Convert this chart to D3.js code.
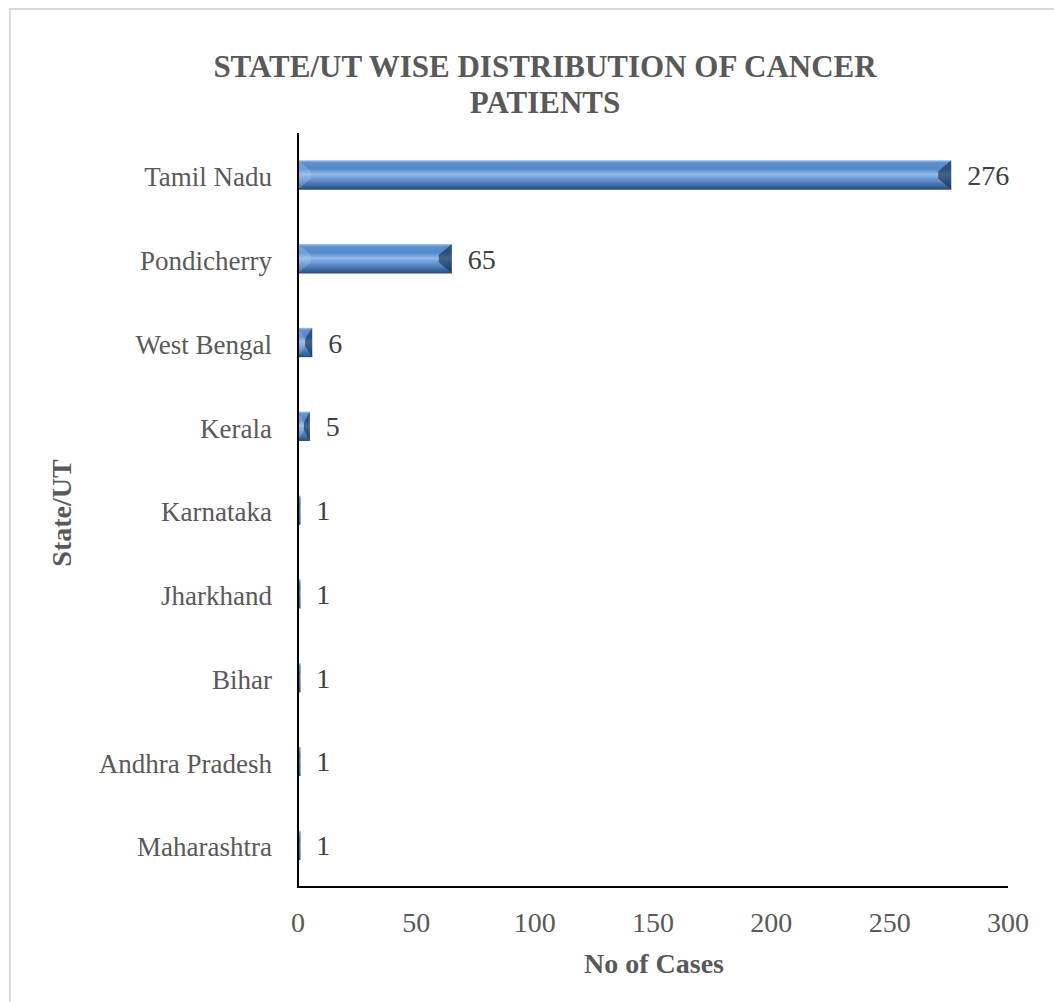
<!DOCTYPE html>
<html><head><meta charset="utf-8">
<script src="https://cdn.jsdelivr.net/npm/d3@7"></script>
<style>body{margin:0;background:#fff}svg{display:block}</style>
</head><body>
<svg id="chart" width="1054" height="1002"></svg>
<script>
const categories = ["Tamil Nadu","Pondicherry","West Bengal","Kerala","Karnataka","Jharkhand","Bihar","Andhra Pradesh","Maharashtra"];
const values = [276,65,6,5,1,1,1,1,1];
const xTicks = [0,50,100,150,200,250,300];
const titleLines = ["STATE/UT WISE DISTRIBUTION OF CANCER","PATIENTS"];
const xTitle = "No of Cases";
const yTitle = "State/UT";

const svg = d3.select("#chart");
const W = 1054, H = 1002;
const m = {left:298, right:1054-1008, top:133, bottom:1002-887};
const font = "'Liberation Serif','Times New Roman',serif";

svg.append("rect").attr("x",10).attr("y",9).attr("width",1060).attr("height",1010)
  .attr("fill","#fff").attr("stroke","#d9d9d9").attr("stroke-width",2);

const x = d3.scaleLinear().domain([0,300]).range([m.left, W-m.right]);
const y = d3.scaleBand().domain(categories).range([m.top, H-m.bottom]).paddingInner(0.65).paddingOuter(0.325);

const defs = svg.append("defs");
const g = defs.append("linearGradient").attr("id","barGrad").attr("x1",0).attr("y1",0).attr("x2",0).attr("y2",1);
[["0%","#a9c6ec"],["8%","#5f91cf"],["30%","#5289c9"],["48%","#93b9e8"],["62%","#6d9cd8"],["85%","#3f6ea8"],["100%","#2b4f7e"]]
  .forEach(([o,c])=>g.append("stop").attr("offset",o).attr("stop-color",c));

const bars = svg.append("g");
categories.forEach((c,i)=>{
  const x0 = x(0), x1 = x(values[i]), y0 = y(c), h = y.bandwidth(), y1 = y0+h;
  const w = x1-x0;
  const bx = Math.min(13, w/2), by = Math.min(11, h/2);
  const gb = bars.append("g");
  gb.append("rect").attr("x",x0).attr("y",y0).attr("width",w).attr("height",h).attr("fill","url(#barGrad)");
  gb.append("polygon").attr("points",[[x0,y0],[x0+bx,y0+by],[x0+bx,y1-by],[x0,y1]].map(p=>p.join(",")).join(" "))
    .attr("fill","#c9dcf3").attr("opacity",0.25);
  gb.append("polygon").attr("points",[[x1,y0],[x1-bx,y0+by],[x1-bx,y1-by],[x1,y1]].map(p=>p.join(",")).join(" "))
    .attr("fill","#13294a").attr("opacity",0.6);
  gb.append("rect").attr("x",x0).attr("y",y1-1.2).attr("width",w).attr("height",1.2).attr("fill","#2a4a75").attr("opacity",0.7);
  svg.append("text").attr("x",x1+16).attr("y",y0+h/2).attr("dy","0.36em")
    .attr("font-family",font).attr("font-size",28).attr("fill","#404040").text(values[i]);
});

categories.forEach(c=>{
  svg.append("text").attr("x",m.left-26).attr("y",y(c)+y.bandwidth()/2).attr("dy","0.42em")
    .attr("text-anchor","end").attr("font-family",font).attr("font-size",27).attr("fill","#595959").text(c);
});

svg.append("line").attr("x1",x(0)).attr("x2",x(0)).attr("y1",m.top).attr("y2",H-m.bottom).attr("stroke","#000").attr("stroke-width",2);
svg.append("line").attr("x1",x(0)-1).attr("x2",x(300)).attr("y1",H-m.bottom).attr("y2",H-m.bottom).attr("stroke","#000").attr("stroke-width",2);

xTicks.forEach(t=>{
  svg.append("text").attr("x",x(t)).attr("y",932).attr("text-anchor","middle")
    .attr("font-family",font).attr("font-size",28).attr("fill","#595959").text(t);
});

titleLines.forEach((t,i)=>{
  svg.append("text").attr("x",545).attr("y",77+i*36).attr("text-anchor","middle")
    .attr("font-family",font).attr("font-size",31).attr("font-weight","bold").attr("fill","#595959").text(t);
});
svg.append("text").attr("x",654).attr("y",973).attr("text-anchor","middle")
  .attr("font-family",font).attr("font-size",28).attr("font-weight","bold").attr("fill","#595959").text(xTitle);
svg.append("text").attr("transform","translate(71,513) rotate(-90)").attr("text-anchor","middle")
  .attr("font-family",font).attr("font-size",28).attr("font-weight","bold").attr("fill","#595959").text(yTitle);
</script>
</body></html>
